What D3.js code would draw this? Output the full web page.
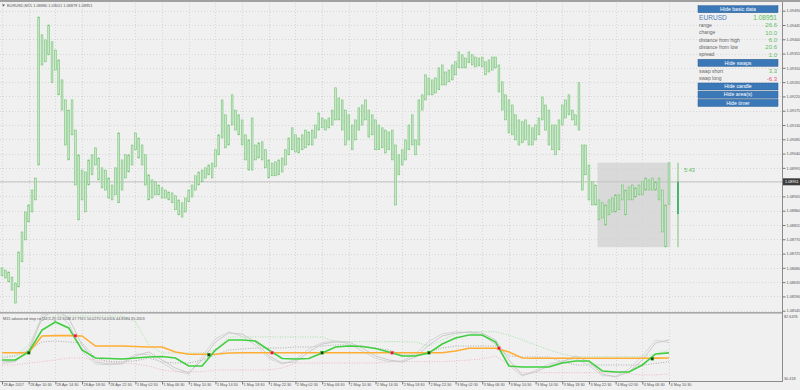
<!DOCTYPE html>
<html>
<head>
<meta charset="utf-8">
<script src="https://cdnjs.cloudflare.com/ajax/libs/d3/7.8.5/d3.min.js"></script>
<style>
  body { margin: 0; background: #f0f0f0; }
  svg { display: block; font-family: "Liberation Sans", Arial, sans-serif; }
</style>
</head>
<body>
<div class="canvas"></div>
<script>
// ---- data ----
const symbol = 'EURUSD';
const titleText = 'EURUSD,M15  1.08880 1.09011 1.08879 1.08951';
const indTitle = 'M15 advanced step rsi [32,5,2]) 51.9248 47.7921 50.0270 54.0116 44.8584 35.2053';

// one label every 8 half-hour bars
const timeLabels = ['28 Apr 2017', '28 Apr 10:30', '28 Apr 14:30', '28 Apr 18:30', '28 Apr 22:30',
  '1 May 02:30', '1 May 06:30', '1 May 10:30', '1 May 14:30', '1 May 18:30', '1 May 22:30',
  '2 May 02:30', '2 May 06:30', '2 May 10:30', '2 May 14:30', '2 May 18:30', '2 May 22:30',
  '3 May 02:30', '3 May 06:30', '3 May 10:30', '3 May 14:30', '3 May 18:30', '3 May 22:30',
  '4 May 02:30', '4 May 06:30', '4 May 10:30'];

const priceTicks = [1.09490, 1.09445, 1.09400, 1.09355, 1.09310, 1.09265, 1.09220, 1.09175,
  1.09130, 1.09085, 1.09040, 1.08995, 1.08950, 1.08905, 1.08860, 1.08815, 1.08770, 1.08725,
  1.08680, 1.08635, 1.08590, 1.08545];

// bar highs / lows (30 min bars)
const highs = [1.08680, 1.08673, 1.08667, 1.08651, 1.08632, 1.08730, 1.08793, 1.08856, 1.08878, 1.08925,
  1.08963, 1.09470, 1.09414, 1.09398, 1.09445, 1.09392, 1.09366, 1.09335, 1.09272, 1.09209,
  1.09177, 1.09209, 1.09114, 1.09036, 1.08988, 1.08982, 1.09020, 1.09036, 1.09058, 1.09026,
  1.08995, 1.08988, 1.08963, 1.08941, 1.08995, 1.09105, 1.09020, 1.09036, 1.09036, 1.09067,
  1.09105, 1.09089, 1.09067, 1.09036, 1.08973, 1.08957, 1.08951, 1.08941, 1.08932, 1.08925,
  1.08919, 1.08916, 1.08907, 1.08894, 1.08885, 1.08900, 1.08925, 1.08941, 1.08970, 1.08982,
  1.08988, 1.08995, 1.09004, 1.09010, 1.09052, 1.09099, 1.09209, 1.09162, 1.09130, 1.09225,
  1.09177, 1.09162, 1.09146, 1.09099, 1.09083, 1.09152, 1.09067, 1.09074, 1.09077, 1.09052,
  1.09020, 1.09010, 1.09014, 1.09020, 1.09026, 1.09052, 1.09089, 1.09121, 1.09099, 1.09089,
  1.09099, 1.09114, 1.09108, 1.09114, 1.09130, 1.09168, 1.09152, 1.09146, 1.09152, 1.09177,
  1.09247, 1.09215, 1.09209, 1.09177, 1.09162, 1.09130, 1.09146, 1.09184, 1.09193, 1.09209,
  1.09177, 1.09162, 1.09146, 1.09130, 1.09121, 1.09114, 1.09108, 1.09114, 1.09067, 1.09036,
  1.09052, 1.09083, 1.09130, 1.09162, 1.09083, 1.09209, 1.09225, 1.09288, 1.09278, 1.09272,
  1.09278, 1.09310, 1.09319, 1.09297, 1.09303, 1.09319, 1.09329, 1.09360, 1.09351, 1.09341,
  1.09360, 1.09351, 1.09344, 1.09341, 1.09344, 1.09329, 1.09335, 1.09344, 1.09344, 1.09319,
  1.09266, 1.09225, 1.09209, 1.09193, 1.09162, 1.09146, 1.09140, 1.09146, 1.09130, 1.09121,
  1.09130, 1.09152, 1.09218, 1.09193, 1.09177, 1.09130, 1.09130, 1.09146, 1.09193, 1.09209,
  1.09225, 1.09177, 1.09162, 1.09263, 1.09067, 1.09067, 1.09004, 1.08951, 1.08941, 1.08894,
  1.08885, 1.08878, 1.08894, 1.08900, 1.08910, 1.08910, 1.08941, 1.08925, 1.08935, 1.08941,
  1.08932, 1.08941, 1.08951, 1.08963, 1.08957, 1.08963, 1.08951, 1.08963, 1.08925, 1.08878,
  1.09011];
const lows = [1.08655, 1.08648, 1.08636, 1.08610, 1.08569, 1.08620, 1.08699, 1.08768, 1.08825, 1.08856,
  1.08894, 1.09004, 1.09319, 1.09329, 1.09351, 1.09263, 1.09303, 1.09225, 1.09177, 1.09067,
  1.09020, 1.09099, 1.08941, 1.08831, 1.08894, 1.08856, 1.08941, 1.08973, 1.09004, 1.08957,
  1.08932, 1.08925, 1.08900, 1.08894, 1.08910, 1.08885, 1.08925, 1.08963, 1.08982, 1.09004,
  1.09052, 1.09026, 1.09004, 1.08941, 1.08894, 1.08900, 1.08910, 1.08910, 1.08900, 1.08900,
  1.08894, 1.08885, 1.08863, 1.08847, 1.08840, 1.08856, 1.08888, 1.08903, 1.08925, 1.08941,
  1.08951, 1.08963, 1.08973, 1.08963, 1.08998, 1.09036, 1.09089, 1.09058, 1.09067, 1.09130,
  1.09114, 1.09099, 1.09067, 1.09020, 1.08988, 1.08988, 1.09020, 1.09026, 1.09020, 1.08995,
  1.08963, 1.08970, 1.08970, 1.08973, 1.08982, 1.09004, 1.09036, 1.09052, 1.09045, 1.09042,
  1.09052, 1.09058, 1.09067, 1.09067, 1.09089, 1.09114, 1.09121, 1.09114, 1.09121, 1.09130,
  1.09146, 1.09146, 1.09114, 1.09067, 1.09083, 1.09052, 1.09083, 1.09114, 1.09130, 1.09146,
  1.09092, 1.09099, 1.09052, 1.09052, 1.09058, 1.09042, 1.09052, 1.09020, 1.08878, 1.08973,
  1.09004, 1.09020, 1.09052, 1.09067, 1.09036, 1.09067, 1.09177, 1.09209, 1.09225, 1.09225,
  1.09231, 1.09241, 1.09256, 1.09256, 1.09266, 1.09272, 1.09288, 1.09310, 1.09310, 1.09310,
  1.09326, 1.09319, 1.09313, 1.09316, 1.09313, 1.09288, 1.09297, 1.09303, 1.09310, 1.09234,
  1.09177, 1.09146, 1.09105, 1.09099, 1.09083, 1.09067, 1.09074, 1.09083, 1.09067, 1.09067,
  1.09083, 1.09099, 1.09146, 1.09114, 1.09067, 1.09052, 1.09036, 1.09052, 1.09130, 1.09152,
  1.09162, 1.09146, 1.09130, 1.09114, 1.08925, 1.08973, 1.08894, 1.08878, 1.08878, 1.08831,
  1.08837, 1.08815, 1.08847, 1.08856, 1.08856, 1.08863, 1.08894, 1.08847, 1.08894, 1.08894,
  1.08903, 1.08910, 1.08910, 1.08925, 1.08925, 1.08925, 1.08925, 1.08894, 1.08793, 1.08746,
  1.08879];

const bid = 1.08951;
const dayHigh = 1.09011;
const dayLow = 1.08745;
const dayStartBar = 179;
const timerText = '5:43';
const timerLeft = 343, barSeconds = 900;

// indicator, sampled every 4 bars
const sampleStep = 4;
const rsiFast = [46.26, 46.26, 52.59, 70.0, 76.32, 71.6, 54.17, 47.85, 47.45, 47.06,
  47.85, 48.64, 49.03, 47.85, 41.5, 41.5, 54.17, 62.1, 62.1, 61.3,
  54.17, 47.45, 47.06, 47.45, 51.8, 56.55, 57.3, 56.9, 55.36, 52.59,
  49.43, 49.43, 51.8, 58.9, 63.7, 66.0, 66.0, 60.5, 41.5, 40.7,
  40.7, 40.7, 43.89, 45.47, 45.47, 37.56, 36.77, 36.77, 42.3, 51.0, 51.92];
const rsiSlow = [52.04, 52.04, 52.04, 65.25, 65.5, 65.5, 65.25, 57.3, 57.3, 57.3,
  56.9, 56.55, 56.55, 52.59, 50.77, 50.77, 50.77, 51.8, 52.04, 52.04,
  52.04, 52.04, 52.04, 52.04, 52.04, 52.04, 52.04, 52.04, 52.04, 52.04,
  52.04, 52.04, 52.04, 52.04, 53.38, 55.5, 55.5, 55.5, 52.59, 47.85,
  47.6, 47.6, 47.6, 47.6, 47.6, 47.6, 47.6, 47.6, 47.6, 47.7, 47.79];
const rsiRaw = [44.68, 45.47, 52.59, 79.5, 85.8, 79.5, 58.13, 44.68, 43.1, 43.1,
  49.43, 52.59, 46.26, 39.9, 35.98, 46.26, 60.5, 67.6, 66.8, 60.5,
  49.43, 43.89, 44.68, 52.59, 58.9, 60.5, 60.5, 55.76, 49.43, 46.26,
  44.68, 48.64, 58.13, 65.25, 67.6, 68.4, 67.6, 62.1, 46.26, 34.4,
  36.77, 41.5, 44.68, 49.43, 44.68, 35.2, 32.8, 36.77, 46.26, 59.7, 62.1];
const rsiRaw2 = [43.5, 44.9, 55.0, 82.0, 84.0, 75.0, 53.0, 43.0, 42.5, 44.0,
  51.0, 50.5, 44.0, 37.8, 35.0, 49.0, 63.0, 68.5, 65.0, 58.0,
  47.5, 43.0, 46.5, 55.0, 60.0, 61.5, 59.0, 53.5, 47.5, 45.0,
  45.5, 51.0, 61.0, 67.0, 68.5, 68.0, 66.0, 58.5, 42.0, 33.5,
  38.0, 43.0, 45.5, 47.5, 42.0, 33.8, 33.5, 39.0, 49.5, 62.0, 60.0];
const bandUpper = [49.43, 49.43, 58.13, 77.9, 81.07, 81.07, 81.07, 81.07, 81.07, 81.07,
  76.56, 58.13, 51.8, 51.8, 51.8, 51.8, 54.17, 64.46, 64.46, 64.46,
  64.46, 64.46, 64.46, 64.46, 64.46, 60.74, 60.74, 60.74, 60.74, 60.74,
  60.74, 60.5, 57.3, 62.1, 66.8, 68.65, 68.65, 68.65, 66.0, 62.1,
  58.13, 54.17, 51.0, 48.87, 48.87, 48.87, 48.87, 48.87, 48.87, 51.0, 54.01];
const bandMiddle = [47.85, 49.43, 54.17, 60.5, 61.3, 60.5, 59.7, 47.85, 44.92, 44.92,
  45.47, 47.85, 44.68, 43.89, 43.89, 46.26, 50.22, 54.17, 54.97, 55.76,
  55.76, 55.76, 56.55, 56.55, 57.3, 58.13, 58.13, 57.3, 55.76, 54.17,
  50.22, 50.22, 52.59, 55.76, 57.3, 57.3, 57.3, 57.3, 49.43, 48.64,
  48.64, 48.64, 44.68, 42.3, 42.3, 42.3, 42.3, 42.3, 42.3, 43.5, 44.86];
const bandLower = [42.3, 42.3, 43.89, 44.92, 46.26, 47.85, 47.85, 46.26, 44.68, 43.89,
  43.1, 41.5, 38.35, 37.0, 37.0, 37.0, 38.35, 38.35, 38.35, 38.35,
  38.35, 39.9, 43.89, 43.89, 43.89, 43.89, 43.89, 43.89, 43.89, 44.68,
  44.92, 44.92, 44.92, 44.92, 45.47, 46.26, 47.06, 49.43, 42.3, 36.2,
  36.2, 36.2, 36.2, 36.2, 36.2, 36.2, 36.2, 35.2, 34.4, 34.4, 35.21];
const crossUp = [{ bar: 8, v: 52.04 }, { bar: 62, v: 50.45 }, { bar: 96, v: 52.04 },
  { bar: 128, v: 52.04 }, { bar: 195, v: 47.3 }];
const crossDown = [{ bar: 22, v: 65.5 }, { bar: 81, v: 52.04 }, { bar: 117, v: 52.04 },
  { bar: 149, v: 55.5 }];
const indMax = 82.6476, indMin = 30.418;

// info panel text
const basicLabels = ['range', 'change', 'distance from high', 'distance from low', 'spread'];
const basicValues = ['26.6', '10.0', '6.0', '20.6', '1.0'];
const swapLabels = ['swap short', 'swap long'];
const swapValues = ['3.3', '-6.3'];
const lowerButtons = ['Hide candle', 'Hide area(s)', 'Hide timer'];

// ---- layout ----
const width = 800, height = 390;
const axisX = 782;
const mainTop = 3, mainBottom = 312;
const indTop = 314, indBottom = 381;

const svg = d3.select('.canvas')
  .append('svg')
  .attr('width', width)
  .attr('height', height);

svg.append('rect').attr('width', width).attr('height', height).attr('fill', '#f0f0f0');

// scales
const x = d3.scaleLinear().domain([0, highs.length - 1]).range([2, 669]);
const y = d3.scaleLinear().domain([1.08545, 1.09490]).range([310.7, 10.7]);
const yi = d3.scaleLinear().domain([indMin, indMax]).range([380, 314]);

const labelBars = timeLabels.map((d, i) => i * 8);

// grid
const grid = svg.append('g').attr('stroke', '#d6d6d6').attr('stroke-dasharray', '1,2');
grid.selectAll('.vg').data(labelBars).enter().append('line')
  .attr('x1', d => Math.round(x(d)) + 0.5).attr('x2', d => Math.round(x(d)) + 0.5)
  .attr('y1', mainTop).attr('y2', indBottom);
grid.selectAll('.hg').data(priceTicks).enter().append('line')
  .attr('x1', 0).attr('x2', axisX)
  .attr('y1', d => Math.round(y(d)) + 0.5).attr('y2', d => Math.round(y(d)) + 0.5);

// day area
svg.append('rect')
  .attr('x', x(dayStartBar) - 1.5)
  .attr('y', y(dayHigh))
  .attr('width', x(highs.length - 1) - x(dayStartBar) + 3)
  .attr('height', y(dayLow) - y(dayHigh))
  .attr('fill', '#d2d2d2').attr('opacity', 0.75);

// bid line
svg.append('line')
  .attr('x1', 0).attr('x2', axisX)
  .attr('y1', y(bid)).attr('y2', y(bid))
  .attr('stroke', '#c4c4c4').attr('stroke-width', 1);

// price bars
const bars = svg.append('g');
bars.selectAll('rect').data(highs).enter().append('rect')
  .attr('x', (d, i) => x(i) - 0.9)
  .attr('width', 1.8)
  .attr('y', d => y(d))
  .attr('height', (d, i) => Math.max(1, y(lows[i]) - y(d)))
  .attr('fill', '#cbe8cb')
  .attr('stroke', '#6cc06c')
  .attr('stroke-width', 0.55);

// timer bar
const tx = 678;
svg.append('line').attr('x1', tx).attr('x2', tx)
  .attr('y1', y(dayHigh)).attr('y2', y(dayLow))
  .attr('stroke', '#7cc47c').attr('stroke-width', 1);
svg.append('line').attr('x1', tx).attr('x2', tx)
  .attr('y1', y(bid)).attr('y2', y(bid) + (y(dayLow) - y(dayHigh)) * timerLeft / barSeconds)
  .attr('stroke', '#48b46e').attr('stroke-width', 2);
svg.append('text').attr('x', 684).attr('y', y(dayHigh) + 9)
  .attr('font-size', 5.6).attr('fill', '#5cb85c').text(timerText);

// title
svg.append('path').attr('d', 'M2,4.5 L5,4.5 L3.5,6.5 Z').attr('fill', '#555');
svg.append('text').attr('x', 7).attr('y', 6.6).attr('font-size', 3.9)
  .attr('fill', '#555').text(titleText);

// panel borders
svg.append('rect').attr('x', 0).attr('y', 0).attr('width', width).attr('height', 2).attr('fill', '#a0a0a0');
svg.append('rect').attr('x', 0).attr('y', mainBottom).attr('width', axisX).attr('height', 1.6).attr('fill', '#a8a8a8');
svg.append('line').attr('x1', 0).attr('x2', axisX).attr('y1', indBottom + 0.5).attr('y2', indBottom + 0.5)
  .attr('stroke', '#8c8c8c');
svg.append('line').attr('x1', axisX + 0.5).attr('x2', axisX + 0.5).attr('y1', 2).attr('y2', indBottom + 1)
  .attr('stroke', '#8c8c8c');

// ---- indicator ----
svg.append('clipPath').attr('id', 'indclip')
  .append('rect').attr('x', 0).attr('y', indTop).attr('width', axisX).attr('height', indBottom - indTop);
const ind = svg.append('g').attr('clip-path', 'url(#indclip)');

const line = d3.line()
  .x((d, i) => x(i * sampleStep))
  .y(d => yi(d));

const indSeries = [
  { data: bandLower, color: '#f2a7b8', w: 0.8, dash: '1,1.5' },
  { data: bandMiddle, color: '#9a9a9a', w: 0.8, dash: '1,1.5' },
  { data: bandUpper, color: '#8fdc8f', w: 0.8, dash: '1,1.5' },
  { data: rsiRaw2, color: '#d2d2d2', w: 0.9, dash: null },
  { data: rsiRaw, color: '#c6c6c6', w: 0.9, dash: null },
  { data: rsiSlow, color: '#ffad33', w: 1.6, dash: null },
  { data: rsiFast, color: '#3fcf3f', w: 1.6, dash: null }
];
indSeries.forEach(s => {
  ind.append('path')
    .attr('d', line(s.data))
    .attr('fill', 'none')
    .attr('stroke', s.color)
    .attr('stroke-width', s.w)
    .attr('stroke-dasharray', s.dash);
});

ind.selectAll('.up').data(crossUp).enter().append('rect')
  .attr('x', d => x(d.bar) - 1.5).attr('y', d => yi(d.v) - 1.5)
  .attr('width', 3).attr('height', 3)
  .attr('fill', '#1b3d1b').attr('stroke', '#3fcf3f').attr('stroke-width', 0.5);
ind.selectAll('.dn').data(crossDown).enter().append('rect')
  .attr('x', d => x(d.bar) - 1.5).attr('y', d => yi(d.v) - 1.5)
  .attr('width', 3).attr('height', 3)
  .attr('fill', '#e0103c').attr('stroke', '#ff8aa0').attr('stroke-width', 0.5);

svg.append('text').attr('x', 3).attr('y', 319.5).attr('font-size', 3.8)
  .attr('fill', '#555').text(indTitle);

// ---- axes ----
const yAxis = d3.axisRight(y)
  .tickValues(priceTicks)
  .tickSize(3)
  .tickFormat(d3.format('.5f'));
const yAxisGroup = svg.append('g').attr('transform', `translate(${axisX + 0.5},0)`).call(yAxis);
yAxisGroup.select('.domain').remove();
yAxisGroup.selectAll('line').attr('stroke', '#777');
yAxisGroup.selectAll('text').attr('x', 4).attr('font-size', 3.8).attr('fill', '#555')
  .attr('font-family', '"Liberation Sans", Arial, sans-serif');

const yiAxis = d3.axisRight(yi)
  .tickValues([indMax, indMin])
  .tickSize(0)
  .tickFormat(d => d === indMax ? '82.6476' : '30.418');
const yiGroup = svg.append('g').attr('transform', `translate(${axisX + 0.5},0)`).call(yiAxis);
yiGroup.select('.domain').remove();
yiGroup.selectAll('text').attr('x', 1.5).attr('font-size', 3.8).attr('fill', '#555')
  .attr('font-family', '"Liberation Sans", Arial, sans-serif')
  .attr('dy', (d, i) => i === 0 ? '0.9em' : '-0.1em');

// bid label on axis
svg.append('rect').attr('x', axisX + 1).attr('y', y(bid) - 3.5).attr('width', 17).attr('height', 7)
  .attr('fill', '#3c3c3c');
svg.append('text').attr('x', axisX + 3).attr('y', y(bid) + 1.4).attr('font-size', 3.8)
  .attr('fill', '#fff').text(d3.format('.5f')(bid));

const xAxis = d3.axisBottom(x)
  .tickValues(labelBars)
  .tickSize(3)
  .tickFormat((d, i) => timeLabels[i]);
const xAxisGroup = svg.append('g').attr('transform', `translate(0,${indBottom + 0.5})`).call(xAxis);
xAxisGroup.select('.domain').remove();
xAxisGroup.selectAll('line').attr('stroke', '#777');
xAxisGroup.selectAll('text')
  .attr('text-anchor', 'start')
  .attr('x', 1).attr('y', 2)
  .attr('font-size', 3.8).attr('fill', '#555')
  .attr('font-family', '"Liberation Sans", Arial, sans-serif');

// ---- info panel ----
const panel = svg.append('g');
const bx = 698, bw = 80, bh = 7;
const button = (top, label) => {
  panel.append('rect').attr('x', bx).attr('y', top).attr('width', bw).attr('height', bh)
    .attr('fill', '#3b78b8').attr('stroke', '#2a5a8c').attr('stroke-width', 0.5);
  panel.append('text').attr('x', bx + bw / 2).attr('y', top + 5.2)
    .attr('text-anchor', 'middle').attr('font-size', 5.2).attr('fill', '#fff').text(label);
};
button(5.7, 'Hide basic data');
panel.append('text').attr('x', bx + 1).attr('y', 19.5).attr('font-size', 6.6)
  .attr('fill', '#4f80bd').text(symbol);
panel.append('text').attr('x', bx + bw - 1).attr('y', 19.5).attr('font-size', 6.6)
  .attr('text-anchor', 'end').attr('fill', '#5cbf5c').text(d3.format('.5f')(bid));
basicLabels.forEach((d, i) => {
  const by = 27 + i * 7.3;
  panel.append('text').attr('x', bx + 1).attr('y', by).attr('font-size', 5)
    .attr('fill', '#666').text(d);
  panel.append('text').attr('x', bx + bw - 1).attr('y', by + 0.3).attr('font-size', 6)
    .attr('text-anchor', 'end').attr('fill', '#5cbf5c').text(basicValues[i]);
});
button(59.3, 'Hide swaps');
swapLabels.forEach((d, i) => {
  const by = 72.7 + i * 7.6;
  panel.append('text').attr('x', bx + 1).attr('y', by).attr('font-size', 5)
    .attr('fill', '#666').text(d);
  panel.append('text').attr('x', bx + bw - 1).attr('y', by + 0.3).attr('font-size', 6)
    .attr('text-anchor', 'end').attr('fill', swapValues[i].startsWith('-') ? '#e8507a' : '#5cbf5c')
    .text(swapValues[i]);
});
lowerButtons.forEach((d, i) => button(83 + i * 8.2, d));
</script>
</body>
</html>
